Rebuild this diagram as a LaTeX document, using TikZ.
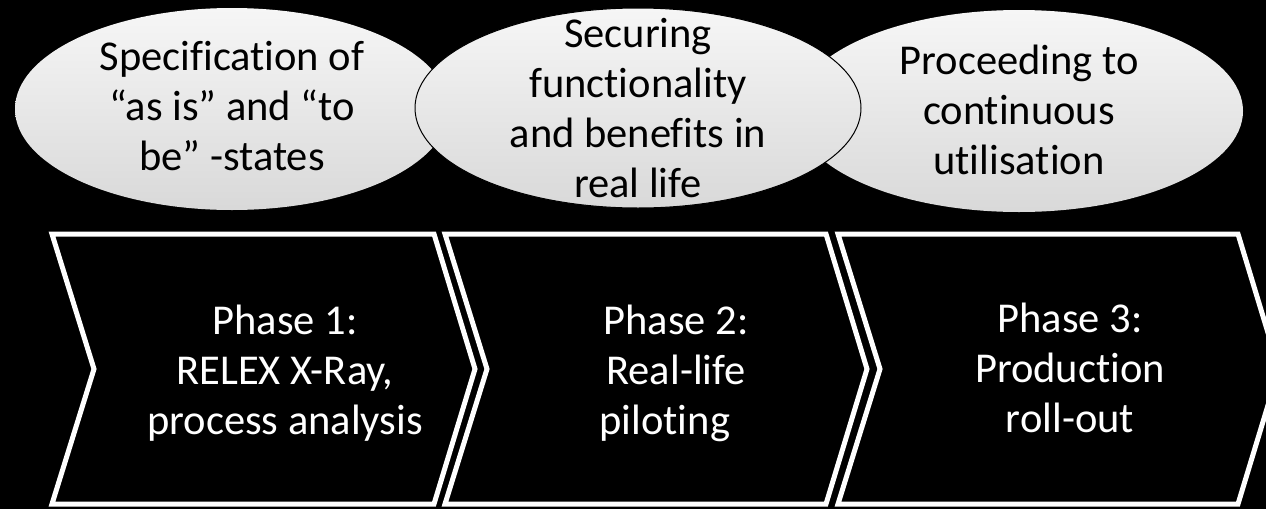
\documentclass[tikz,border=0pt]{standalone}
\usepackage{fontspec}
\setmainfont{Carlito}[Ligatures=NoCommon]
\usetikzlibrary{shapes.geometric}
\tikzset{
  bubble/.style={ellipse, inner sep=0pt, top color=gray!7, bottom color=gray!30, draw=none},
  bubbletop/.style={bubble, draw=black, line width=1pt},
  btext/.style={align=center, text=black, font=\fontsize{42.5}{50}\selectfont, inner sep=0pt},
  chev/.style={draw=white, line width=5pt, fill=black, line join=miter},
  ctext/.style={align=center, text=white, font=\fontsize{42.5}{50}\selectfont, inner sep=0pt},
}
\begin{document}
\begin{tikzpicture}[x=1pt,y=-1pt]
\fill[black] (0,0) rectangle (1266,509);
\useasboundingbox (0,0) rectangle (1266,509);
\clip (0,0) rectangle (1266,509);
% ellipses
\node[bubble, minimum width=434pt, minimum height=202pt] (e1) at (232,109) {};
\node[bubble, minimum width=448pt, minimum height=202pt] (e3) at (1019,111) {};
\node[bubbletop, minimum width=446pt, minimum height=200pt] (e2) at (638,108) {};
\node[btext] (t1) at (232,106) {Specification of\\“as is” and “to\\be” -states};
\node[btext] (t2) at (638,108) {Securing\\functionality\\and benefits in\\real life};
\node[btext] (t3) at (1019,110) {Proceeding to\\continuous\\utilisation};
% chevrons
\foreach \i/\x/\w in {1/52/382,2/445/381,3/838/400}{
  \draw[chev] (\x,234) coordinate (c\i tl) -- ++(\w,0) coordinate (c\i tr)
     -- ++(41,135) coordinate (c\i tip) -- ++(-41,135) coordinate (c\i br)
     -- ++(-\w,0) coordinate (c\i bl) -- ++(42,-135) coordinate (c\i notch) -- cycle;
}
\node[ctext] (p1) at (285,373) {Phase 1:\\RELEX X-Ray,\\process analysis};
\node[ctext] (p2) at (676,373) {Phase 2:\\Real-life\\piloting\hphantom{n}};
\node[ctext] (p3) at (1070,368) {Phase 3:\\Production\\roll-out};
\end{tikzpicture}
\end{document}
